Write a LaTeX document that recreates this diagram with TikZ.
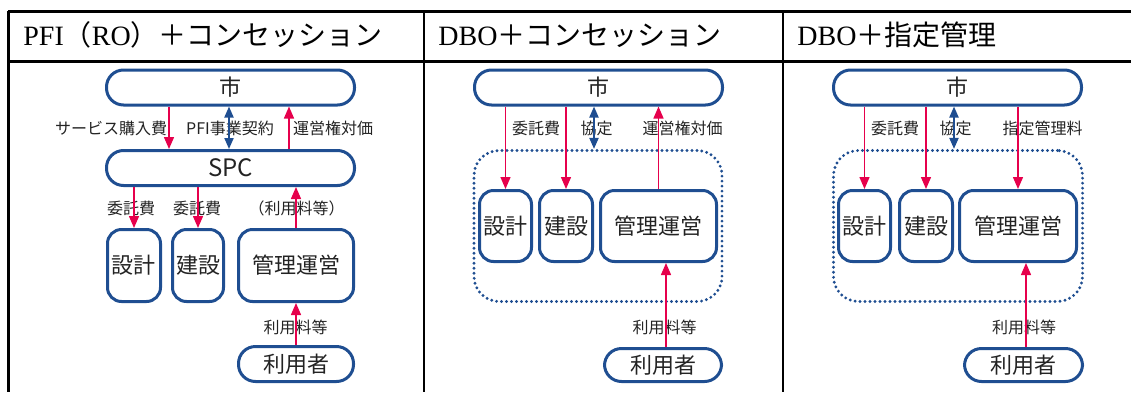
\documentclass[tikz,border=0pt]{standalone}
\usepackage{fontspec}
\setmainfont{Liberation Serif}
\newfontfamily\cjk{Noto Sans CJK JP}
\usetikzlibrary{arrows.meta}
\definecolor{navy}{RGB}{31,78,145}
\definecolor{crimson}{RGB}{230,0,76}
\definecolor{ink}{RGB}{35,35,35}
\begin{document}
\begin{tikzpicture}[x=0.5pt,y=-0.5pt,
    rule/.style={black,line width=1.5pt},
    thinrule/.style={black,line width=1pt},
    head/.style={font=\fontsize{14}{15}\selectfont,inner sep=0pt,anchor=base west},
    pill/.style={draw=navy,line width=1.5pt,rounded corners=8.5pt,minimum width=124pt,
      minimum height=17.5pt,inner sep=0pt,text=ink,font=\cjk\fontsize{11}{11}\selectfont},
    tile/.style={draw=navy,line width=1.5pt,rounded corners=7pt,minimum height=35.5pt,
      inner sep=0pt,text=ink,font=\cjk\fontsize{11}{11}\selectfont},
    grp/.style={draw=navy,line width=1.6pt,rounded corners=12.5pt,line cap=round,
      dash pattern=on 0pt off 2.5pt,minimum width=124pt,minimum height=75.5pt,inner sep=0pt},
    lbl/.style={text=ink,inner sep=0pt,font=\cjk\fontsize{8}{8}\selectfont},
    pay/.style={crimson,line width=0.7pt,-{Triangle[width=5pt,length=6pt]}},
    pact/.style={navy,line width=1pt,{Triangle[width=4.5pt,length=5.5pt]}-{Triangle[width=4.5pt,length=5.5pt]}}]
  \useasboundingbox (0,0) rectangle (1131,392);
  % table
  \draw[rule] (8,11) -- (1131,11);
  \draw[rule] (8,61) -- (1131,61);
  \draw[rule] (8,11) -- (8,392);
  \draw[thinrule] (424,11) -- (424,392);
  \draw[thinrule] (783,11) -- (783,392);
  \path
    (23,45) node[head] (h1){PFI{\cjk（}RO{\cjk）＋コンセッション}}
    (438,45) node[head] (h2){DBO{\cjk＋コンセッション}}
    (797,45) node[head] (h3){DBO{\cjk＋指定管理}};
  % PFI (RO) + concession
  \draw
    (230.5,87.5) node[pill] (shi1){市}
    (230.5,168) node[pill,font=\cjk\fontsize{12}{12}\selectfont] (spc){SPC}
    (134,265.5) node[tile,minimum width=26.5pt,minimum height=36pt] (sekkei1){設計}
    (198,265.5) node[tile,minimum width=25.5pt,minimum height=36pt] (kensetsu1){建設}
    (296,265.5) node[tile,minimum width=57.5pt,minimum height=36pt] (kanri1){管理運営}
    (296,364) node[pill,minimum width=57.5pt] (riyou1){利用者};
  \path
    (111,128) node[lbl] (l11){サービス購入費}
    (230,128) node[lbl] (l12){PFI事業契約}
    (333,128) node[lbl] (l13){運営権対価}
    (131,208) node[lbl] (l14){委託費}
    (197,208) node[lbl] (l15){委託費}
    (296.5,208) node[lbl] (l16){（利用料等）}
    (295.5,327) node[lbl] (l17){利用料等};
  \begin{scope}
    \draw[pay] (shi1.south -| 169,0) -- (spc.north -| 169,0);
    \draw[pact] (shi1.south -| 229,0) -- (spc.north -| 229,0);
    \draw[pay] (spc.north -| 289,0) -- (shi1.south -| 289,0);
    \draw[pay] (spc.south -| sekkei1) -- (sekkei1.north);
    \draw[pay] (spc.south -| kensetsu1) -- (kensetsu1.north);
    \draw[pay] (kanri1.north) -- (spc.south -| kanri1);
    \draw[pay] (riyou1.north) -- (kanri1.south);
  \end{scope}
  % DBO + concession
  \draw
    (598.5,87.5) node[pill] (shi2){市}
    (598,226) node[grp] (grp2){}
    (505.5,226) node[tile,minimum width=26pt] (sekkei2){設計}
    (566,226) node[tile,minimum width=26.5pt] (kensetsu2){建設}
    (658.5,226) node[tile,minimum width=58pt] (kanri2){管理運営}
    (663,365) node[pill,minimum width=58.5pt,minimum height=16.5pt] (riyou2){利用者};
  \path
    (536,128) node[lbl] (l21){委託費}
    (596.5,128) node[lbl] (l22){協定}
    (682.5,128) node[lbl] (l23){運営権対価}
    (664.5,327) node[lbl] (l24){利用料等};
  \begin{scope}
    \draw[pay] (shi2.south -| sekkei2) -- (sekkei2.north);
    \draw[pay] (shi2.south -| kensetsu2) -- (kensetsu2.north);
    \draw[pact] (shi2.south -| 594,0) -- (grp2.north -| 594,0);
    \draw[pay] (kanri2.north) -- (shi2.south -| kanri2);
    \draw[pay] (riyou2.north -| 666,0) -- (kanri2.south -| 666,0);
  \end{scope}
  % DBO + designated manager
  \draw
    (957.5,87.5) node[pill] (shi3){市}
    (958,226) node[grp,minimum width=124.5pt] (grp3){}
    (864.5,226) node[tile,minimum width=26pt] (sekkei3){設計}
    (926,226) node[tile,minimum width=26.5pt] (kensetsu3){建設}
    (1018,226) node[tile,minimum width=58.5pt] (kanri3){管理運営}
    (1023.5,365) node[pill,minimum width=59pt,minimum height=16.5pt] (riyou3){利用者};
  \path
    (895,128) node[lbl] (l31){委託費}
    (955.5,128) node[lbl] (l32){協定}
    (1042.5,128) node[lbl] (l33){指定管理料}
    (1024,327) node[lbl] (l34){利用料等};
  \begin{scope}
    \draw[pay] (shi3.south -| sekkei3) -- (sekkei3.north);
    \draw[pay] (shi3.south -| kensetsu3) -- (kensetsu3.north);
    \draw[pact] (shi3.south -| 954,0) -- (grp3.north -| 954,0);
    \draw[pay] (shi3.south -| kanri3) -- (kanri3.north);
    \draw[pay] (riyou3.north -| 1026,0) -- (kanri3.south -| 1026,0);
  \end{scope}
\end{tikzpicture}
\end{document}
